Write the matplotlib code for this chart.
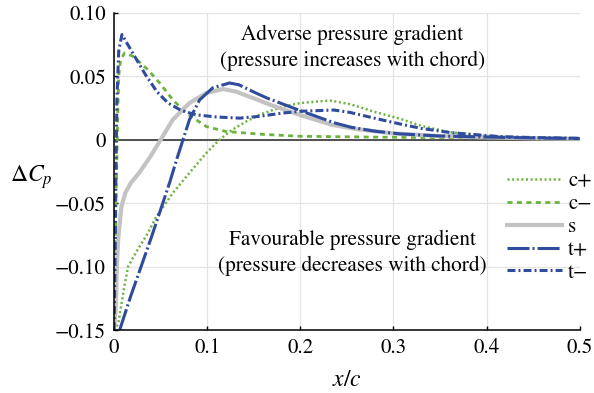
import matplotlib
matplotlib.use('Agg')
from matplotlib import pyplot as plt

# values (x/c, delta Cp)
cp_x = [0.0, 0.0045, 0.01, 0.015, 0.025, 0.036, 0.045, 0.063, 0.081, 0.099, 0.113, 0.127,
        0.142, 0.156, 0.18, 0.2, 0.232, 0.254, 0.28, 0.307, 0.33, 0.36, 0.4, 0.45, 0.5]
cp_y = [-0.15, -0.145, -0.12, -0.10, -0.087, -0.074, -0.061, -0.042, -0.026, -0.0105, 0.0, 0.008,
        0.0145, 0.0197, 0.026, 0.029, 0.031, 0.028, 0.022, 0.0166, 0.011, 0.006, 0.003, 0.0015, 0.001]

cm_x = [0.0, 0.002, 0.004, 0.005, 0.007, 0.0114, 0.02, 0.0363, 0.049, 0.063, 0.0776, 0.099,
        0.12, 0.142, 0.16, 0.2, 0.25, 0.3, 0.4, 0.5]
cm_y = [-0.15, -0.05, 0.02, 0.05, 0.063, 0.0685, 0.066, 0.0553, 0.0448, 0.0316, 0.021, 0.0105,
        0.0066, 0.0053, 0.0043, 0.0028, 0.0024, 0.002, 0.0015, 0.001]

s_x = [0.0, 0.002, 0.003, 0.0045, 0.0078, 0.012, 0.018, 0.027, 0.039, 0.05, 0.063, 0.081,
       0.099, 0.117, 0.131, 0.149, 0.17, 0.2, 0.234, 0.26, 0.3, 0.35, 0.4, 0.45, 0.5]
s_y = [-0.15, -0.13, -0.10, -0.078, -0.053, -0.042, -0.034, -0.026, -0.0132, 0.0, 0.0158, 0.029,
       0.0369, 0.040, 0.038, 0.033, 0.027, 0.0195, 0.0118, 0.0085, 0.005, 0.003, 0.002, 0.0012, 0.0008]

tp_x = [0.006, 0.018, 0.029, 0.04, 0.05, 0.06, 0.067, 0.074, 0.081, 0.092, 0.106, 0.124,
        0.134, 0.152, 0.164, 0.2, 0.236, 0.254, 0.28, 0.307, 0.35, 0.4, 0.45, 0.5]
tp_y = [-0.15, -0.123, -0.100, -0.077, -0.055, -0.033, -0.016, 0.0, 0.016, 0.0316, 0.041, 0.0448,
        0.0434, 0.037, 0.033, 0.023, 0.0135, 0.0100, 0.0068, 0.0047, 0.003, 0.0022, 0.0015, 0.001]

tm_x = [0.0, 0.001, 0.002, 0.003, 0.005, 0.0085, 0.014, 0.022, 0.034, 0.046, 0.058, 0.072,
        0.088, 0.11, 0.135, 0.156, 0.18, 0.2, 0.236, 0.254, 0.28, 0.307, 0.33, 0.361, 0.415,
        0.45, 0.5]
tm_y = [-0.15, -0.10, -0.03, 0.03, 0.07, 0.083, 0.076, 0.066, 0.051, 0.038, 0.029, 0.0232,
        0.0197, 0.018, 0.0171, 0.0185, 0.021, 0.0225, 0.0235, 0.0215, 0.017, 0.0125, 0.009, 0.0057,
        0.0025, 0.0018, 0.0012]

xticks = [0, 0.1, 0.2, 0.3, 0.4, 0.5]
xticklabels = ['0', '0.1', '0.2', '0.3', '0.4', '0.5']
yticks = [-0.15, -0.10, -0.05, 0, 0.05, 0.10]
yticklabels = ['\u22120.15', '\u22120.10', '\u22120.05', '0', '0.05', '0.10']

green = '#6cb33e'
blue = '#2f4b9c'
grey = '#c3c3c3'

plt.rcParams['font.family'] = 'STIXGeneral'
plt.rcParams['mathtext.fontset'] = 'stix'

fig = plt.figure(figsize=(5.94, 3.93), dpi=100)
ax = fig.add_axes([0.192, 0.160, 0.784, 0.807])

ax.grid(True, color='#e4e4e4', lw=0.9)
ax.set_axisbelow(True)
ax.axhline(0, color='#444444', lw=1.3, zorder=1)

ax.plot(cp_x, cp_y, color=green, lw=1.8, dashes=(0.8, 1.05), label='c+')
ax.plot(cm_x, cm_y, color=green, lw=2.0, dashes=(1.8, 1.6), label='c\u2212')
ax.plot(s_x, s_y, color=grey, lw=3.0, label='s')
ax.plot(tp_x, tp_y, color=blue, lw=2.2, dashes=(7.2, 1.0, 0.65, 1.0), label='t+')
ax.plot(tm_x, tm_y, color=blue, lw=2.2, dashes=(2.6, 1.0, 0.65, 1.0), label='t\u2212')

ax.set_xlim(0, 0.5)
ax.set_ylim(-0.15, 0.10)
ax.set_xticks(xticks)
ax.set_xticklabels(xticklabels)
ax.set_yticks(yticks)
ax.set_yticklabels(yticklabels)
ax.tick_params(direction='in', length=3, width=1, labelsize=15, pad=6)

for side in ['top', 'right']:
    ax.spines[side].set_visible(False)
for side in ['left', 'bottom']:
    ax.spines[side].set_linewidth(1.1)

ax.set_xlabel('$x/c$', fontsize=17)
ax.xaxis.set_label_coords(0.5, -0.125)
ax.set_ylabel('$\\Delta C_p$', fontsize=17, rotation=0, va='center')
ax.yaxis.set_label_coords(-0.178, 0.483)

ax.text(0.256, 0.0727, 'Adverse pressure gradient\n(pressure increases with chord)',
        ha='center', va='center', fontsize=15.3, linespacing=1.35)
ax.text(0.256, -0.0893, 'Favourable pressure gradient\n(pressure decreases with chord)',
        ha='center', va='center', fontsize=15.3, linespacing=1.35)

ax.legend(loc='center left', bbox_to_anchor=(0.843, 0.325), frameon=False, fontsize=15,
          handlelength=2.65, handletextpad=0.3, labelspacing=0.15, borderaxespad=0, borderpad=0)

fig.savefig('out.png', dpi=100)
